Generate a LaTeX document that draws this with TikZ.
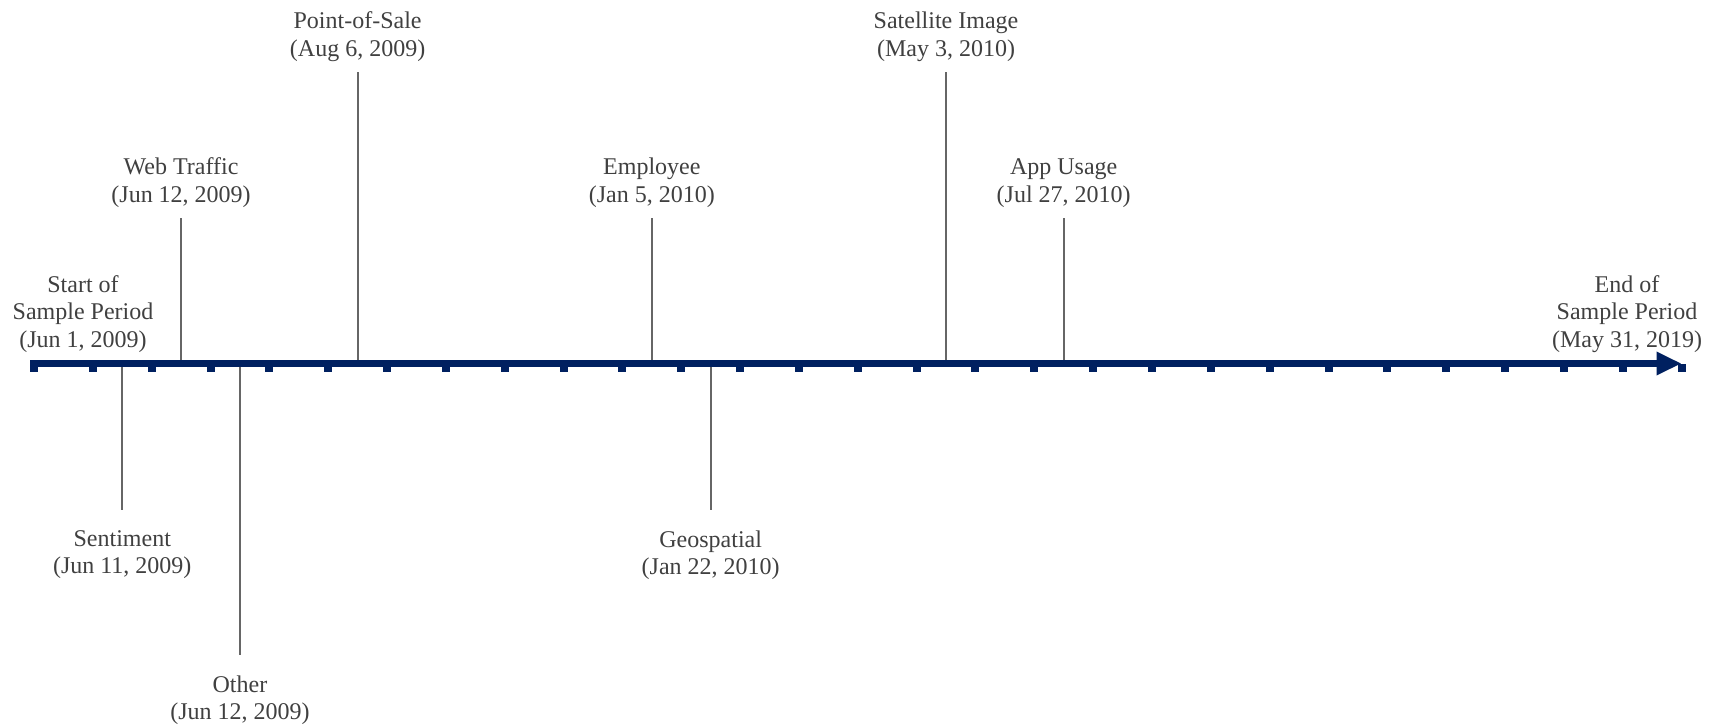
\documentclass[tikz,border=0pt]{standalone}
\usepackage{fontspec}
\setmainfont{Liberation Serif}
\usetikzlibrary{arrows.meta}
\definecolor{axisblue}{HTML}{002060}
\definecolor{labelgray}{HTML}{404040}
\definecolor{leadgray}{HTML}{666666}

\begin{document}
\begin{tikzpicture}[x=0.5pt,y=-0.5pt,line join=round,
    font=\fontsize{12}{13.75}\selectfont,
    lbl/.style={text=labelgray,align=center,inner sep=5pt},
    up/.style={lbl,anchor=south},
    dn/.style={lbl,anchor=north,inner ysep=10pt},
    lead/.style={leadgray,line width=0.9pt}]
  \useasboundingbox (0,0) rectangle (1717,724);
  % ticks and half-way points on the axis
  \foreach \k in {0,...,28}{
    \coordinate (t\k) at ({34+\k*58.84},363.5);
    \coordinate (m\k) at ({34+(\k+0.5)*58.84},363.5);
  }
  % start and end
  \node[up] (start) at (83,363) {Start of\\Sample Period\\(Jun 1, 2009)};
  \node[up] (end) at (1627,363) {End of\\Sample Period\\(May 31, 2019)};
  % events above the axis
  \node[up] (web) at (m2 |- 0,218) {Web Traffic\\(Jun 12, 2009)};
  \node[up] (pos) at (m5 |- 0,72) {Point-of-Sale\\(Aug 6, 2009)};
  \node[up] (emp) at (m10 |- 0,218) {Employee\\(Jan 5, 2010)};
  \node[up] (sat) at (m15 |- 0,72) {Satellite Image\\(May 3, 2010)};
  \node[up] (app) at (m17 |- 0,218) {App Usage\\(Jul 27, 2010)};
  % events below the axis
  \node[dn] (sen) at (m1 |- 0,510) {Sentiment\\(Jun 11, 2009)};
  \node[dn] (oth) at (m3 |- 0,655) {Other\\(Jun 12, 2009)};
  \node[dn] (geo) at (m11 |- 0,510) {Geospatial\\(Jan 22, 2010)};
  \draw[lead] (m2) -- (web);
  \draw[lead] (m5) -- (pos);
  \draw[lead] (m10) -- (emp);
  \draw[lead] (m15) -- (sat);
  \draw[lead] (m17) -- (app);
  \draw[lead] (m1) -- (sen);
  \draw[lead] (m3) -- (oth);
  \draw[lead] (m11) -- (geo);
  % axis
  \draw[axisblue,line width=3.5pt,-{Triangle[length=12.5pt,width=11pt]}] (30,363.5) -- (t28);
  \foreach \k in {0,...,28}
    \fill[axisblue,shift={(t\k)}] (-4,0) rectangle (4,8.5);
\end{tikzpicture}
\end{document}
